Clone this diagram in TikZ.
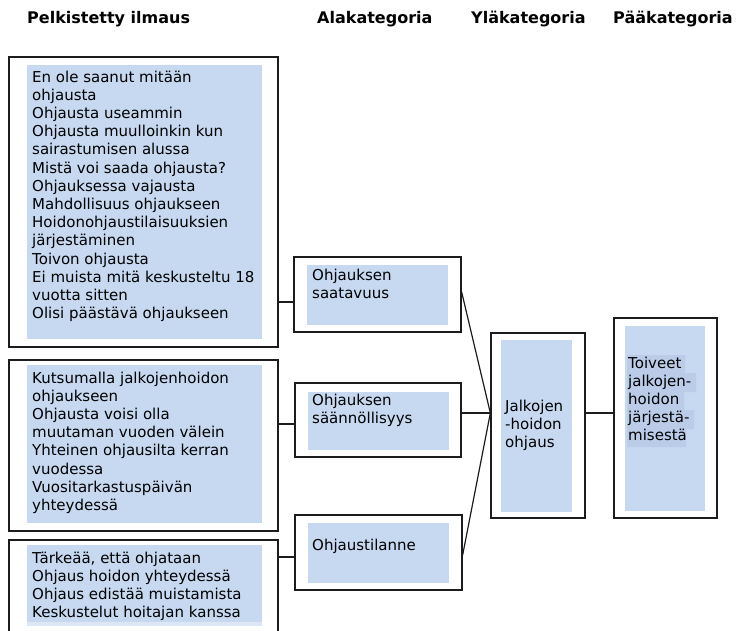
\documentclass[tikz,border=0pt]{standalone}
\usepackage{fontspec}
\setmainfont{DejaVu Sans}
\usetikzlibrary{fit}
\definecolor{cellblue}{RGB}{198,217,241}
\definecolor{cellshade}{RGB}{186,204,232}
\definecolor{cellpale}{RGB}{220,230,244}
\definecolor{inkline}{RGB}{28,28,28}
\tikzset{
  frame/.style={draw=inkline, line width=1.3pt, fill=white, inner sep=0pt},
  cell/.style={fill=cellblue, draw=none, inner sep=0pt},
  txt/.style={inner sep=0pt, anchor=base west, text=black},
  head/.style={inner sep=0pt, anchor=base west, text=black,
    font=\bfseries\fontsize{16}{19}\selectfont},
  link/.style={draw=inkline, line width=1.2pt},
}
% multi-line cell text whose reference point is the first baseline
\newcommand{\celltext}[1]{\parbox[t]{260pt}{\fontsize{15}{18.2}\selectfont\raggedright #1}}
\begin{document}
\begin{tikzpicture}[x=1pt,y=-1pt]
\useasboundingbox (0,0) rectangle (737,630);
\clip (0,0) rectangle (737,630);

% column headings
\node[head] (h1) at (27,23) {Pelkistetty ilmaus};
\node[head] (h2) at (317,23) {Alakategoria};
\node[head] (h3) at (471,23) {Yläkategoria};
\node[head] (h4) at (613,23) {Pääkategoria};

% simplified expressions
\node[frame, fit={(9,57) (278,347)}] (p1) {};
\node[cell, fit={(27,65) (262,339)}] (p1c) {};
\node[txt] (p1t) at (32,82) {\celltext{En ole saanut mitään\\ohjausta\\Ohjausta useammin\\Ohjausta muulloinkin kun\\sairastumisen alussa\\Mistä voi saada ohjausta?\\Ohjauksessa vajausta\\Mahdollisuus ohjaukseen\\Hoidonohjaustilaisuuksien\\järjestäminen\\Toivon ohjausta\\Ei muista mitä keskusteltu 18\\vuotta sitten\\Olisi päästävä ohjaukseen}};

\node[frame, fit={(9,360) (278,531)}] (p2) {};
\node[cell, fit={(27,365) (262,523)}] (p2c) {};
\node[txt] (p2t) at (32,383) {\celltext{Kutsumalla jalkojenhoidon\\ohjaukseen\\Ohjausta voisi olla\\muutaman vuoden välein\\Yhteinen ohjausilta kerran\\vuodessa\\Vuositarkastuspäivän\\yhteydessä}};

\node[frame, fit={(9,540) (278,660)}] (p3) {};
\node[cell, fit={(27,545) (262,622)}] (p3c) {};
\fill[cellpale] (27,622) rectangle (262,626);
\node[txt] (p3t) at (32,563) {\celltext{Tärkeää, että ohjataan\\Ohjaus hoidon yhteydessä\\Ohjaus edistää muistamista\\Keskustelut hoitajan kanssa}};

% subcategories
\node[frame, fit={(294,257) (461,332)}] (a1) {};
\node[cell, fit={(307,265) (448,325)}] (a1c) {};
\node[txt] (a1t) at (312,280) {\celltext{Ohjauksen\\saatavuus}};

\node[frame, fit={(295,383) (461,457)}] (a2) {};
\node[cell, fit={(308,392) (449,450)}] (a2c) {};
\node[txt] (a2t) at (312,405) {\celltext{Ohjauksen\\säännöllisyys}};

\node[frame, fit={(295,515) (462,590)}] (a3) {};
\node[cell, fit={(308,523) (449,583)}] (a3c) {};
\node[txt] (a3t) at (312,550) {\celltext{Ohjaustilanne}};

% upper category
\node[frame, fit={(491,333) (585,518)}] (y1) {};
\node[cell, fit={(501,340) (572,512)}] (y1c) {};
\node[txt] (y1t) at (505,411) {\celltext{Jalkojen\\-hoidon\\ohjaus}};

% main category
\node[frame, fit={(614,318) (717,518)}] (m1) {};
\node[cell, fit={(625,326) (705,511)}] (m1c) {};
\fill[cellshade] (627,355) rectangle (685,373)
                 (627,373) rectangle (696,392)
                 (627,392) rectangle (684,410)
                 (627,410) rectangle (694,429)
                 (627,429) rectangle (686,447);
\node[txt] (m1t) at (628,368) {\celltext{Toiveet\\jalkojen-\\hoidon\\järjestä-\\misestä}};

% connectors
\coordinate (r1) at (0,302);
\coordinate (r2) at (0,424);
\coordinate (r3) at (0,557);
\coordinate (s1) at (0,292);
\coordinate (s2) at (0,413);
\coordinate (s3) at (0,555);
\coordinate (j) at (y1.west |- s2);

\draw[link] (p1.east |- r1) -- (a1.west |- r1);
\draw[link] (p2.east |- r2) -- (a2.west |- r2);
\draw[link] (p3.east |- r3) -- (a3.west |- r3);

\draw[link] (a1.east |- s1) -- (j);
\draw[link] (a2.east |- s2) -- (j);
\draw[link] (a3.east |- s3) -- (j);

\draw[link] (y1.east |- s2) -- (m1.west |- s2);
\end{tikzpicture}
\end{document}
